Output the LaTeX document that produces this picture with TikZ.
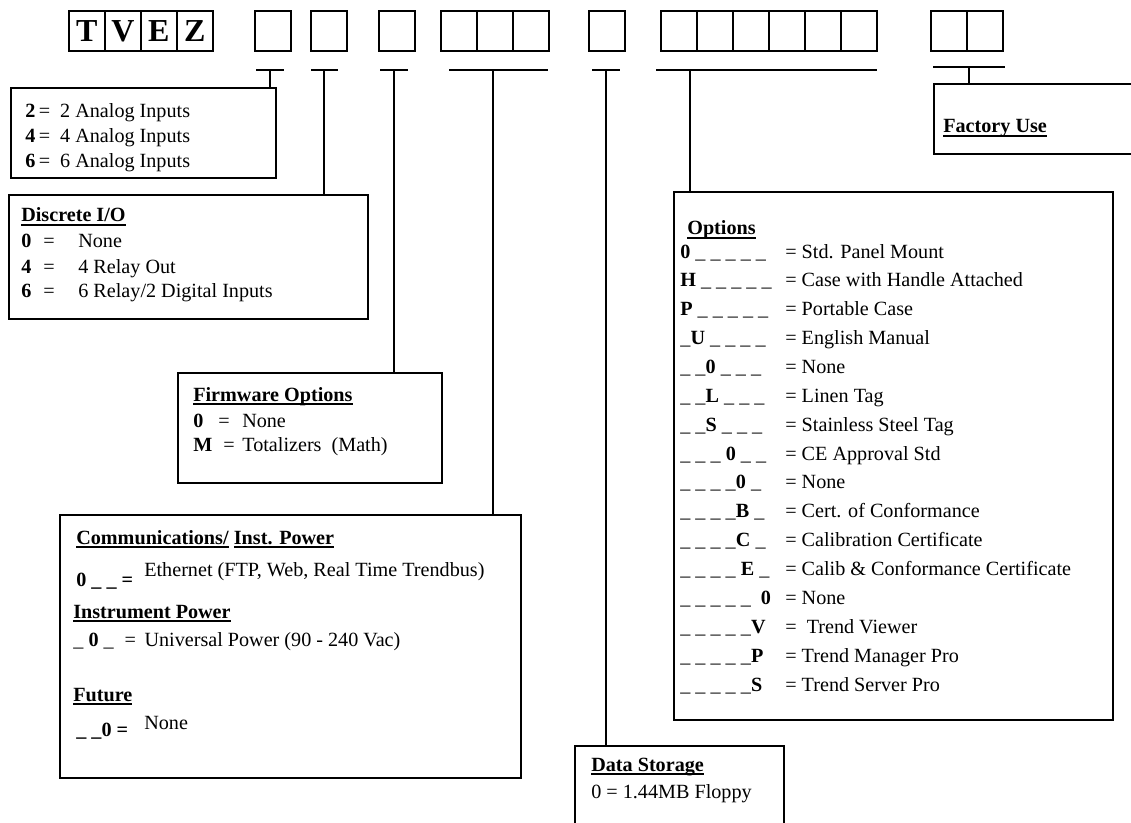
\documentclass[tikz,border=0pt,12pt]{standalone}
\usepackage{fontspec}
\setmainfont{Liberation Serif}
\newcommand{\hdr}[1]{\setbox0\hbox{\textbf{#1}}\rlap{\rule[-2.2pt]{\wd0}{1.1pt}}\box0\relax}
\tikzset{
  codecell/.style={draw, line width=1.1pt, anchor=north west, inner sep=0pt,
    minimum width=36*0.625pt, minimum height=40*0.625pt,
    font=\fontsize{20}{22}\selectfont\bfseries},
  infobox/.style 2 args={draw, line width=1.1pt, anchor=north west, inner sep=0pt,
    minimum width=#1*0.625pt, minimum height=#2*0.625pt},
  txt/.style={anchor=base west, inner sep=0pt, font=\fontsize{12.6}{15}\selectfont},
  bar/.style={line width=1.1pt},
}
\begin{document}
\begin{tikzpicture}[x=0.625pt, y=-0.625pt]
\useasboundingbox (0,0) rectangle (1131,823);
\clip (0,0) rectangle (1131,823);
% model code cells
\foreach \l [count=\i from 0] in {T,V,E,Z}
  \node[codecell] (tvez\i) at ({68+36*\i},10) {\l};
\foreach \x in {254,310,378,440,476,512,588,660,696,732,768,804,840,930,966}
  \node[codecell] (cell\x) at (\x,10) {};
% option boxes
\node[infobox={265}{90}] (analog) at (10,87) {};
\node[infobox={359}{124}] (discrete) at (8,194) {};
\node[infobox={264}{110}] (firmware) at (177,372) {};
\node[infobox={461}{263}] (comms) at (59,514) {};
\node[infobox={209}{120}] (storage) at (574,745) {};
\node[infobox={439}{528}] (options) at (673,191) {};
\node[infobox={220}{70}] (factory) at (933,83) {};
% bars and stems
\foreach \a/\b/\m/\y/\bx in {256/284/270/70/analog, 311/338/324/70/discrete,
    380/408/394/70/firmware, 449/548/493/70/comms, 592/620/606/70/storage,
    656/877/690/70/options, 933/1005/969/67/factory}{
  \draw[bar] (\a,\y) -- (\b,\y);
  \coordinate (t-\bx) at (\m,\y);
  \draw[bar] (t-\bx) -- (t-\bx |- \bx.north);
}
% analog inputs
\node[txt] (a2) at (25,118) {\textbf{2}\,=\ \ 2 Analog Inputs};
\node[txt] (a4) at (25,143) {\textbf{4}\,=\ \ 4 Analog Inputs};
\node[txt] (a6) at (25,168) {\textbf{6}\,=\ \ 6 Analog Inputs};
% discrete I/O
\node[txt] (dio) at (21,222) {\hdr{Discrete I/O}};
\node[txt] (d0) at (21,248) {\makebox[13.75pt][l]{\textbf{0}}\makebox[21.9pt][l]{=}None};
\node[txt] (d4) at (21,273) {\makebox[13.75pt][l]{\textbf{4}}\makebox[21.9pt][l]{=}4 Relay Out};
\node[txt] (d6) at (21,297) {\makebox[13.75pt][l]{\textbf{6}}\makebox[21.9pt][l]{=}6 Relay/2 Digital Inputs};
% firmware
\node[txt] (fwo) at (193,401) {\hdr{Firmware Options}};
\node[txt] (f0) at (193,427) {\makebox[15.6pt][l]{\textbf{0}}\makebox[15pt][l]{=}None};
\node[txt] (fm) at (193,451) {\makebox[18.75pt][l]{\textbf{M}}\makebox[11.9pt][l]{=}Totalizers\ \ (Math)};
% communications
\node[txt] (cip) at (76,544) {\hdr{Communications/} \hdr{Inst. Power}};
\node[txt] (c0) at (76,586) {\textbf{0 \_ \_ =}};
\node[txt] (ceth) at (144,576) {Ethernet (FTP, Web, Real Time Trendbus)};
\node[txt] (ipw) at (73,618) {\hdr{Instrument Power}};
\node[txt] (p0) at (73,646) {\makebox[32pt][l]{\_ \textbf{0} \_}\makebox[12.5pt][l]{=}Universal Power (90 - 240 Vac)};
\node[txt] (fut) at (73,701) {\hdr{Future}};
\node[txt] (u0) at (76,736) {\textbf{\_ \_0 =}};
\node[txt] (unone) at (144,729) {None};
% data storage
\node[txt] (dst) at (591,771) {\hdr{Data Storage}};
\node[txt] (dfl) at (591,798) {0 = 1.44MB Floppy};
% factory
\node[txt] (fuse) at (943,133) {\hdr{Factory Use}};
% options
\node[txt] (opt) at (687,235) {\hdr{Options}};
\foreach \c/\d [count=\k from 0] in {
    {\textbf{0} \_ \_ \_ \_ \_}/{= Std. Panel Mount},
    {\textbf{H} \_ \_ \_ \_ \_}/{= Case with Handle Attached},
    {\textbf{P} \_ \_ \_ \_ \_}/{= Portable Case},
    {\_\textbf{U} \_ \_ \_ \_}/{= English Manual},
    {\_ \_\textbf{0} \_ \_ \_}/{= None},
    {\_ \_\textbf{L} \_ \_ \_}/{= Linen Tag},
    {\_ \_\textbf{S} \_ \_ \_}/{= Stainless Steel Tag},
    {\_ \_ \_\ \textbf{0} \_ \_}/{= CE Approval Std},
    {\_ \_ \_ \_\textbf{0} \_}/{= None},
    {\_ \_ \_ \_\textbf{B} \_}/{= Cert. of Conformance},
    {\_ \_ \_ \_\textbf{C} \_}/{= Calibration Certificate},
    {\_ \_ \_ \_\ \textbf{E} \_}/{= Calib \& Conformance Certificate},
    {\_ \_ \_ \_ \_\ \ \textbf{0}}/{= None},
    {\_ \_ \_ \_ \_\textbf{V}}/{=\ \ Trend Viewer},
    {\_ \_ \_ \_ \_\textbf{P}}/{= Trend Manager Pro},
    {\_ \_ \_ \_ \_\textbf{S}}/{= Trend Server Pro}}{
  \node[txt] (oc\k) at (680,{258+28.87*\k}) {\c};
  \node[txt] (od\k) at (785,{258+28.87*\k}) {\d};
}
\end{tikzpicture}
\end{document}
